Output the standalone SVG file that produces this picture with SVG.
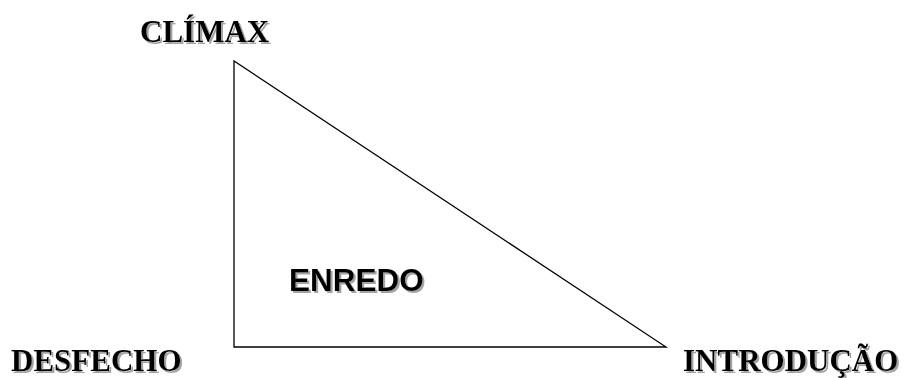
<svg xmlns="http://www.w3.org/2000/svg" width="908" height="378" viewBox="0 0 908 378">
<defs>
<filter id="sh" x="-10%" y="-20%" width="120%" height="150%">
<feDropShadow dx="2" dy="2" stdDeviation="0.6" flood-color="#999" flood-opacity="0.9"/>
</filter>
</defs>
<style>
.lbl{font-family:"Liberation Serif","Times New Roman",serif;font-weight:bold;font-size:31px;fill:#000;filter:url(#sh)}
.in{font-family:"Liberation Sans",Arial,sans-serif;font-weight:bold;font-size:31.5px;fill:#000;filter:url(#sh)}
.edge{fill:#fff;stroke:#000;stroke-width:1.3}
</style>
<rect width="908" height="378" fill="#fff"/>
<g id="connectors">
<polygon class="edge" points="234,61 234,347 666,347"/>
</g>
<g id="climax"><text class="lbl" x="140" y="42">CLÍMAX</text></g>
<g id="desfecho"><text class="lbl" x="11" y="371">DESFECHO</text></g>
<g id="introducao"><text class="lbl" x="683" y="371">INTRODUÇÃO</text></g>
<g id="enredo"><text class="in" x="289" y="291">ENREDO</text></g>
</svg>
